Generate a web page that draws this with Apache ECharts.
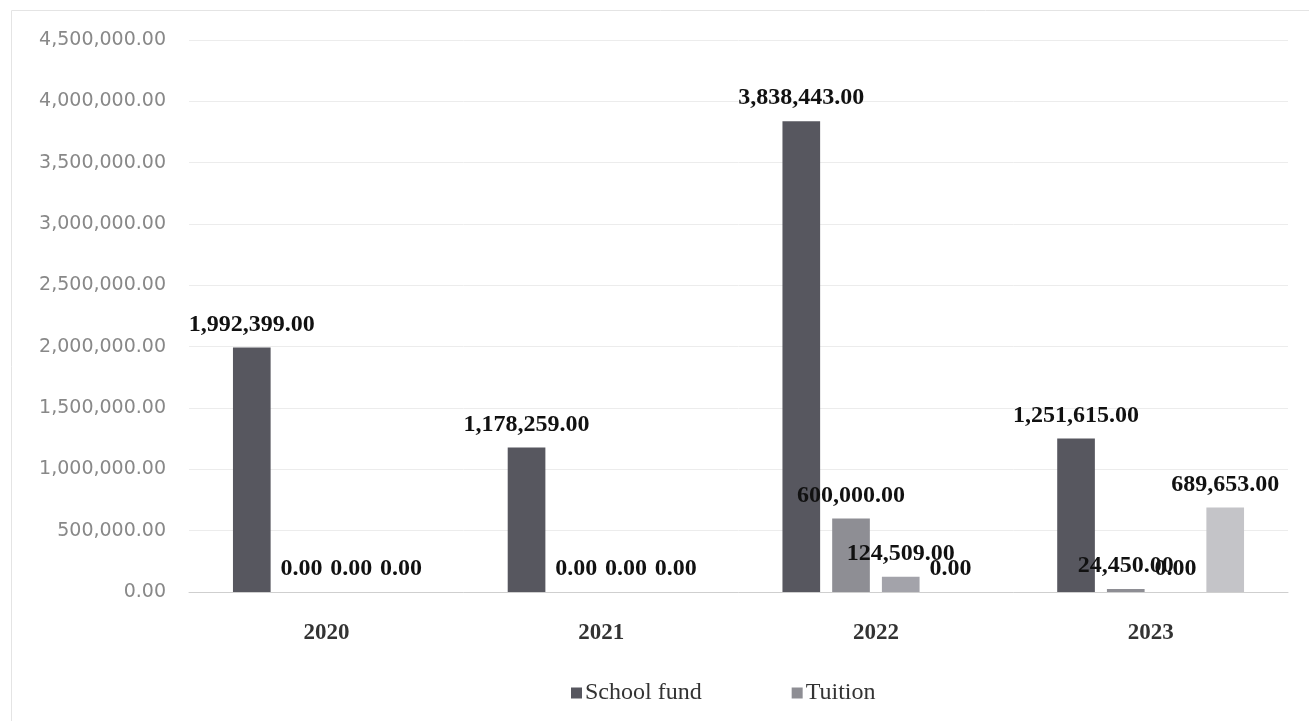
<!DOCTYPE html>
<html>
<head>
<meta charset="utf-8">
<script src="https://cdn.jsdelivr.net/npm/echarts@6/dist/echarts.min.js"></script>
<style>
  html, body { margin: 0; padding: 0; background: #fff; }
  #chart { width: 1309px; height: 721px; }
</style>
</head>
<body>
<div id="chart"></div>
<script>
// years on the x axis
const years = ['2020', '2021', '2022', '2023'];

// four series per year, only the first two are named in the legend
const schoolFund = [1992399, 1178259, 3838443, 1251615];
const tuition = [0, 0, 600000, 24450];
const thirdSeries = [0, 0, 124509, 0];
const fourthSeries = [0, 0, 0, 689653];

const yTicks = { min: 0, max: 4500000, interval: 500000 };

const fmt = function (n) {
    return Number(n).toLocaleString('en-US', { minimumFractionDigits: 2, maximumFractionDigits: 2 });
};

const chart = echarts.init(document.getElementById('chart'));

const labelStyle = {
    show: true,
    position: 'top',
    distance: 11,
    color: '#111',
    fontFamily: 'Liberation Serif',
    fontWeight: 'bold',
    fontSize: 24,
    formatter: function (p) { return fmt(p.value); }
};

function makeSeries(name, data, color) {
    return {
        name: name,
        type: 'bar',
        data: data,
        barGap: '32%',
        barCategoryGap: '32%',
        itemStyle: { color: color },
        label: labelStyle
    };
}

const option = {
    animation: false,
    // faint frame of the original chart area
    graphic: [{
        type: 'rect',
        shape: { x: 11.5, y: 10.5, width: 1320, height: 730 },
        style: { fill: 'none', stroke: '#e4e4e4', lineWidth: 1 },
        silent: true
    }],
    grid: { left: 189, right: 21, top: 40, bottom: 129, containLabel: false },
    legend: {
        data: ['School fund', 'Tuition'],
        top: 676,
        left: 566,
        itemWidth: 11,
        itemHeight: 11,
        itemGap: 90,
        icon: 'rect',
        textStyle: { fontFamily: 'Liberation Serif', fontSize: 24, color: '#333', padding: [0, 0, 0, -2] }
    },
    xAxis: {
        type: 'category',
        data: years,
        axisTick: { show: false },
        axisLine: { lineStyle: { color: '#cfcfcf' } },
        axisLabel: {
            margin: 30,
            color: '#333',
            fontFamily: 'Liberation Serif',
            fontWeight: 'bold',
            fontSize: 23
        }
    },
    yAxis: {
        type: 'value',
        min: yTicks.min,
        max: yTicks.max,
        interval: yTicks.interval,
        axisLine: { show: false },
        axisTick: { show: false },
        splitLine: { lineStyle: { color: '#ececec' } },
        axisLabel: {
            margin: 23,
            color: '#888',
            fontFamily: 'DejaVu Sans',
            fontSize: 19,
            formatter: fmt
        }
    },
    series: [
        makeSeries('School fund', schoolFund, '#57575f'),
        makeSeries('Tuition', tuition, '#8e8e94'),
        makeSeries('Series 3', thirdSeries, '#a3a3aa'),
        makeSeries('Series 4', fourthSeries, '#c4c4c8')
    ]
};

chart.setOption(option);
</script>
</body>
</html>
